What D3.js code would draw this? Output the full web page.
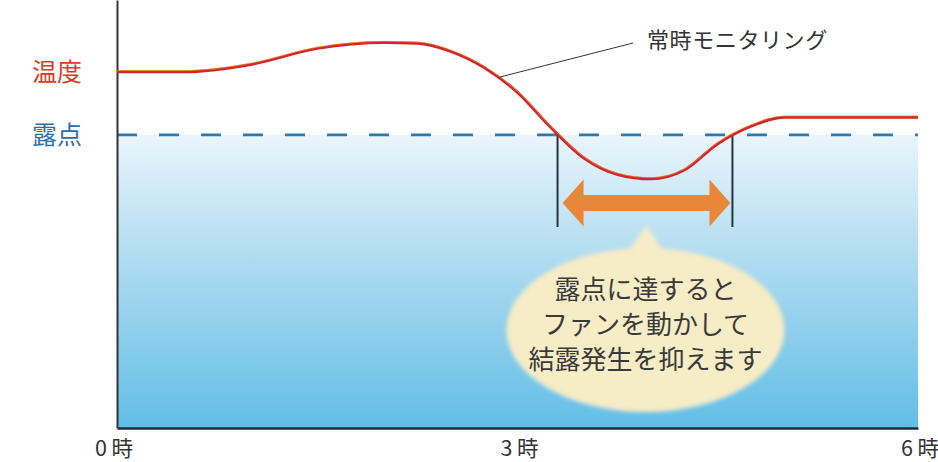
<!DOCTYPE html>
<html lang="ja">
<head>
<meta charset="utf-8">
<script src="https://cdn.jsdelivr.net/npm/d3@7"></script>
<style>
  html, body { margin: 0; padding: 0; background: #fff; }
  svg { display: block; font-family: "Noto Sans CJK JP", "Noto Sans", sans-serif; }
</style>
</head>
<body>
<svg id="chart" width="938" height="462"></svg>
<script>
// Time axis (hours) and measured temperature
const hours = [0, 0.5, 1.0, 1.5, 2.0, 2.25, 2.5, 2.75, 3.0, 3.25, 3.5, 3.75, 4.0, 4.25, 4.5, 4.75, 5.0, 5.5, 6.0];
const temperature = [24.3, 24.3, 24.8, 25.9, 26.3, 26.25, 25.7, 24.6, 22.9, 20.5, 18.4, 17.3, 17.0, 17.6, 19.4, 20.6, 21.2, 21.2, 21.2];
const dewPoint = 20;
// Hours where the temperature crosses the dew point (fan running interval)
const fanInterval = [3.30, 4.61];
const tickHours = [0, 3, 6];
const tickLabels = ["0 時", "3 時", "6 時"];
const seriesLabels = ["温度", "露点"];
const curveLabel = "常時モニタリング";
const bubbleLines = ["露点に達すると", "ファンを動かして", "結露発生を抑えます"];

const svg = d3.select("#chart");
const margin = { left: 117, right: 20, top: 0, bottom: 34 };
const W = 938, H = 462;

const x = d3.scaleLinear().domain([0, 6]).range([margin.left, W - margin.right]);
const y = d3.scaleLinear().domain([0, 29.2]).range([H - margin.bottom, margin.top]);

const defs = svg.append("defs");
const grad = defs.append("linearGradient").attr("id", "water").attr("x1", 0).attr("y1", 0).attr("x2", 0).attr("y2", 1);
grad.append("stop").attr("offset", "0%").attr("stop-color", "#eaf5fb");
grad.append("stop").attr("offset", "45%").attr("stop-color", "#acdaf0");
grad.append("stop").attr("offset", "100%").attr("stop-color", "#62bee7");

defs.append("filter").attr("id", "soft").attr("x", "-10%").attr("y", "-10%").attr("width", "120%").attr("height", "120%")
  .append("feGaussianBlur").attr("stdDeviation", 2.2);

// Region below the dew point
svg.append("rect")
  .attr("x", x(0)).attr("y", y(dewPoint))
  .attr("width", x(6) - x(0)).attr("height", y(0) - y(dewPoint))
  .attr("fill", "url(#water)");

// Dew point dashed line
svg.append("line")
  .attr("x1", x(0)).attr("x2", x(6))
  .attr("y1", y(dewPoint)).attr("y2", y(dewPoint))
  .attr("stroke", "#2a78b4").attr("stroke-width", 2.8)
  .attr("stroke-dasharray", "20 22");

// Axes
const xAxis = d3.axisBottom(x).tickValues(tickHours).tickSize(0)
  .tickFormat((d, i) => tickLabels[i]);
const gx = svg.append("g").attr("transform", `translate(0,${y(0)})`).call(xAxis);
gx.select(".domain").attr("stroke", "#1d2b3a").attr("stroke-width", 2.5);
gx.selectAll("text").attr("font-size", 21.5).attr("fill", "#333").attr("dy", "0").attr("y", 28)
  .attr("font-family", "'Noto Sans CJK JP', sans-serif");
gx.selectAll(".tick").attr("transform", d => `translate(${x(d) + (d === 0 ? -3 : d === 6 ? 2 : 2)},0)`);

const yAxis = d3.axisLeft(y).tickValues([]).tickSize(0);
const gy = svg.append("g").attr("transform", `translate(${x(0)},0)`).call(yAxis);
gy.select(".domain").attr("stroke", "#333").attr("stroke-width", 2);

// Series labels on the left
const labelColors = ["#d93a2c", "#2b6ead"];
const labelValues = [temperature[0], dewPoint];
svg.selectAll(".series-label").data(seriesLabels).join("text")
  .attr("class", "series-label")
  .attr("x", 57).attr("y", (d, i) => y(labelValues[i]))
  .attr("dy", "0.36em").attr("text-anchor", "middle")
  .attr("font-size", 25).attr("fill", (d, i) => labelColors[i])
  .text(d => d);

// Fan interval markers
svg.selectAll(".marker").data(fanInterval).join("line")
  .attr("class", "marker")
  .attr("x1", d => x(d)).attr("x2", d => x(d))
  .attr("y1", y(dewPoint)).attr("y2", 227)
  .attr("stroke", "#26323f").attr("stroke-width", 2);

// Double-headed arrow between the markers
const ax0 = x(fanInterval[0]) + 5, ax1 = x(fanInterval[1]) - 2, ay = 203;
const shaft = 8, head = 23.5, headLen = 21;
const arrowPath = [
  [ax0, ay], [ax0 + headLen, ay - head], [ax0 + headLen, ay - shaft],
  [ax1 - headLen, ay - shaft], [ax1 - headLen, ay - head], [ax1, ay],
  [ax1 - headLen, ay + head], [ax1 - headLen, ay + shaft],
  [ax0 + headLen, ay + shaft], [ax0 + headLen, ay + head]
];
svg.append("path")
  .attr("d", d3.line()(arrowPath) + "Z")
  .attr("fill", "#e8873a");

// Speech bubble
const bx = (x(fanInterval[0]) + x(fanInterval[1])) / 2 + 0.5, by = 330;
const bubble = svg.append("g").attr("filter", "url(#soft)");
bubble.append("ellipse")
  .attr("cx", bx).attr("cy", by).attr("rx", 139).attr("ry", 82)
  .attr("fill", "#f6ecc6");
bubble.append("path")
  .attr("d", d3.line()([[bx - 20, by - 76], [bx + 1, 226], [bx + 20, by - 76]]) + "Z")
  .attr("fill", "#f6ecc6");

svg.selectAll(".bubble-text").data(bubbleLines).join("text")
  .attr("class", "bubble-text")
  .attr("x", bx).attr("y", (d, i) => 290 + i * 35)
  .attr("dy", "0.36em").attr("text-anchor", "middle")
  .attr("font-size", 26).attr("fill", "#3a3a3a")
  .text(d => d);

// Temperature curve
const pts = hours.map((h, i) => [x(h), y(temperature[i])]);
const line = d3.line().curve(d3.curveMonotoneX);
svg.append("path").attr("d", line(pts))
  .attr("fill", "none").attr("stroke", "#d4232b").attr("stroke-width", 3);
svg.append("path").attr("d", line(pts))
  .attr("transform", "translate(0,-1.2)")
  .attr("fill", "none").attr("stroke", "#efc020").attr("stroke-width", 0.7).attr("opacity", 0.7);

// Leader and label for the curve
svg.append("line")
  .attr("x1", 500).attr("y1", 77).attr("x2", 633).attr("y2", 43)
  .attr("stroke", "#333").attr("stroke-width", 1);
svg.append("text")
  .attr("x", 647).attr("y", 40).attr("dy", "0.36em")
  .attr("font-size", 22).attr("letter-spacing", 0.6).attr("fill", "#333")
  .text(curveLabel);
</script>
</body>
</html>
